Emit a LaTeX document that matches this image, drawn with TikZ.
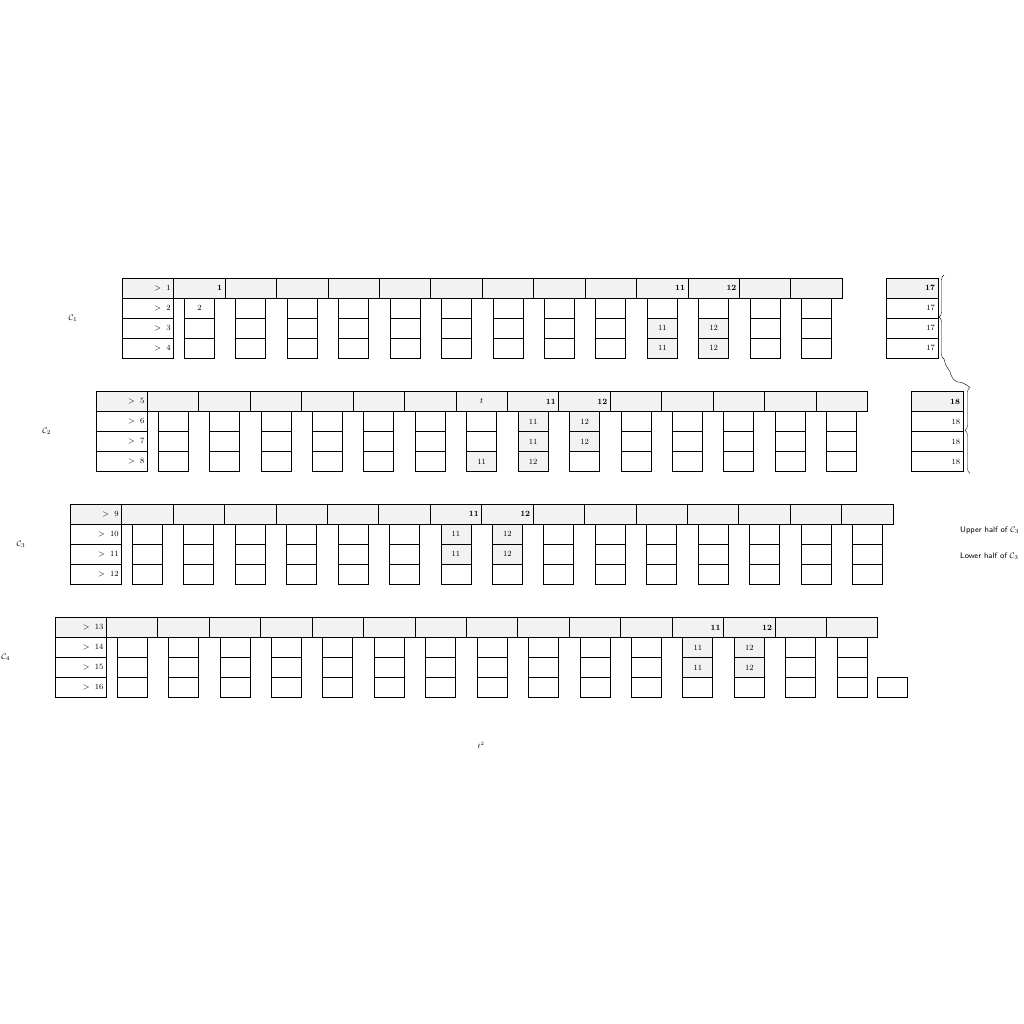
\documentclass[tikz,border=0pt]{standalone}
\usetikzlibrary{positioning, decorations.pathreplacing}

\begin{document}
\begin{tikzpicture}[
    cell/.style={draw, thick, outer sep=0pt, minimum height=0.7cm, font=\footnotesize},
    wide/.style={cell, inner xsep=3pt, inner ysep=0pt, text width=45.2pt, align=right},
    narrow/.style={cell, inner sep=0pt, minimum width=1.05cm},
    hdr/.style={fill=gray!10},
    grp/.style={font=\footnotesize},
    note/.style={font=\sffamily\footnotesize, anchor=west, inner sep=0pt},
    brc/.style={decorate, decoration={brace, amplitude=5pt}}
]
\useasboundingbox (0,0) rectangle (35.84,35.84);

% === C1 ===
\node[wide, hdr, anchor=north west] (c1r1) at (4.28,26.10) {$>$~~1};
\node[wide, below=0pt of c1r1] (c1r2) {$>$~~2};
\node[wide, below=0pt of c1r2] (c1r3) {$>$~~3};
\node[wide, below=0pt of c1r3] (c1r4) {$>$~~4};
\node[grp, left=1.45cm of c1r2.south west] (c1) {$\mathcal{C}_1$};
\foreach \i in {1,...,13} {
    \node[wide, hdr, right=0pt of c1r1, xshift={(\i-1)*1.8cm}] (c1t\i) {};
    \node[narrow, below=0pt of c1t\i] (c1a\i) {};
    \node[narrow, below=0pt of c1a\i] (c1b\i) {};
    \node[narrow, below=0pt of c1b\i] (c1c\i) {};
}
\node[wide, hdr] (c1n1) at (c1t1) {\textbf{1}};
\node[narrow] (c1n2) at (c1a1) {2};
\node[wide, hdr] (c1n3) at (c1t10) {\textbf{11}};
\node[wide, hdr] (c1n4) at (c1t11) {\textbf{12}};
\node[narrow, hdr] (c1n5) at (c1b10) {11};
\node[narrow, hdr] (c1n6) at (c1c10) {11};
\node[narrow, hdr] (c1n7) at (c1b11) {12};
\node[narrow, hdr] (c1n8) at (c1c11) {12};
\node[wide, hdr, right=1.55cm of c1t13] (c1x1) {\textbf{17}};
\node[wide, below=0pt of c1x1] (c1x2) {17};
\node[wide, below=0pt of c1x2] (c1x3) {17};
\node[wide, below=0pt of c1x3] (c1x4) {17};

% === C2 ===
\node[wide, hdr, anchor=north west] (c2r1) at (3.36,22.14) {$>$~~5};
\node[wide, below=0pt of c2r1] (c2r2) {$>$~~6};
\node[wide, below=0pt of c2r2] (c2r3) {$>$~~7};
\node[wide, below=0pt of c2r3] (c2r4) {$>$~~8};
\node[grp, left=1.45cm of c2r2.south west] (c2) {$\mathcal{C}_2$};
\foreach \i in {1,...,14} {
    \node[wide, hdr, right=0pt of c2r1, xshift={(\i-1)*1.8cm}] (c2t\i) {};
    \node[narrow, below=0pt of c2t\i] (c2a\i) {};
    \node[narrow, below=0pt of c2a\i] (c2b\i) {};
    \node[narrow, below=0pt of c2b\i] (c2c\i) {};
}
\node[font=\footnotesize] (c2n1) at (c2t7) {$t$};
\node[wide, hdr] (c2n2) at (c2t8) {\textbf{11}};
\node[wide, hdr] (c2n3) at (c2t9) {\textbf{12}};
\node[narrow, hdr] (c2n4) at (c2c7) {11};
\node[narrow, hdr] (c2n5) at (c2a8) {11};
\node[narrow, hdr] (c2n6) at (c2b8) {11};
\node[narrow, hdr] (c2n7) at (c2c8) {12};
\node[narrow, hdr] (c2n8) at (c2a9) {12};
\node[narrow, hdr] (c2n9) at (c2b9) {12};
\node[wide, hdr, right=1.55cm of c2t14] (c2x1) {\textbf{18}};
\node[wide, below=0pt of c2x1] (c2x2) {18};
\node[wide, below=0pt of c2x2] (c2x3) {18};
\node[wide, below=0pt of c2x3] (c2x4) {18};

% === C3 ===
\node[wide, hdr, anchor=north west] (c3r1) at (2.46,18.19) {$>$~~9};
\node[wide, below=0pt of c3r1] (c3r2) {$>$~~10};
\node[wide, below=0pt of c3r2] (c3r3) {$>$~~11};
\node[wide, below=0pt of c3r3] (c3r4) {$>$~~12};
\node[grp, left=1.45cm of c3r2.south west] (c3) {$\mathcal{C}_3$};
\foreach \i in {1,...,15} {
    \node[wide, hdr, right=0pt of c3r1, xshift={(\i-1)*1.8cm}] (c3t\i) {};
    \node[narrow, below=0pt of c3t\i] (c3a\i) {};
    \node[narrow, below=0pt of c3a\i] (c3b\i) {};
    \node[narrow, below=0pt of c3b\i] (c3c\i) {};
}
\node[wide, hdr] (c3n1) at (c3t7) {\textbf{11}};
\node[wide, hdr] (c3n2) at (c3t8) {\textbf{12}};
\node[narrow, hdr] (c3n3) at (c3a7) {11};
\node[narrow, hdr] (c3n4) at (c3b7) {11};
\node[narrow, hdr] (c3n5) at (c3a8) {12};
\node[narrow, hdr] (c3n6) at (c3b8) {12};
\node[note] (up) at (33.6,17.29) {Upper half of $\mathcal{C}_3$};
\node[note] (lo) at (33.6,16.38) {Lower half of $\mathcal{C}_3$};

% === C4 ===
\node[wide, hdr, anchor=north west] (c4r1) at (1.925,14.23) {$>$~~13};
\node[wide, below=0pt of c4r1] (c4r2) {$>$~~14};
\node[wide, below=0pt of c4r2] (c4r3) {$>$~~15};
\node[wide, below=0pt of c4r3] (c4r4) {$>$~~16};
\node[grp, left=1.45cm of c4r2.south west] (c4) {$\mathcal{C}_4$};
\foreach \i in {1,...,15} {
    \node[wide, hdr, right=0pt of c4r1, xshift={(\i-1)*1.8cm}] (c4t\i) {};
    \node[narrow, below=0pt of c4t\i] (c4a\i) {};
    \node[narrow, below=0pt of c4a\i] (c4b\i) {};
    \node[narrow, below=0pt of c4b\i] (c4c\i) {};
}
\node[wide, hdr] (c4n1) at (c4t12) {\textbf{11}};
\node[wide, hdr] (c4n2) at (c4t13) {\textbf{12}};
\node[narrow, hdr] (c4n3) at (c4a12) {11};
\node[narrow, hdr] (c4n4) at (c4b12) {11};
\node[narrow, hdr] (c4n5) at (c4a13) {12};
\node[narrow, hdr] (c4n6) at (c4b13) {12};
\node[narrow, anchor=north west] (c4x) at (c4t15.east |- c4c15.north) {};

\node[font=\scriptsize] (t2) at (16.835,9.765) {$t^2$};

% === Braces ===
\coordinate (b1s) at (33.04,23.275);
\coordinate (b1e) at (33.04,26.215);
\coordinate (b2s) at (33.95,19.27);
\coordinate (b2e) at (33.95,22.28);
\draw[brc] (b1s) -- (b1e);
\draw[brc] (b2s) -- (b2e);
\draw (b1s) -- (33.10,23.065) -- (33.25,22.83) -- (33.285,22.715) -- (33.366,22.565)
    -- (33.48,22.48) -- (33.66,22.45) -- (33.83,22.365) -- (b2e);

\end{tikzpicture}
\end{document}
